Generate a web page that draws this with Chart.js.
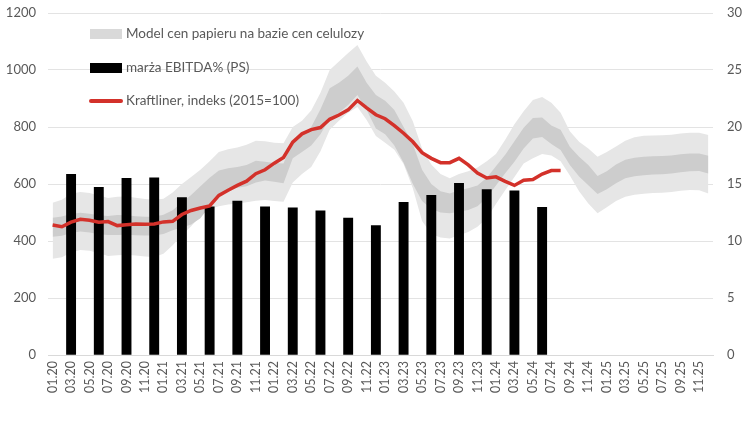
<!DOCTYPE html>
<html>
<head>
<meta charset="utf-8">
<script src="https://cdn.jsdelivr.net/npm/chart.js@4.4.1/dist/chart.umd.min.js"></script>
<style>
html,body{margin:0;padding:0;background:#fff;}
#wrap{position:relative;width:755px;height:430px;}
</style>
</head>
<body>
<div id="wrap"><canvas id="c" width="755" height="430"></canvas></div>
<script>
// Monthly categories 01.20 - 12.25
const months = [
 "01.20","02.20","03.20","04.20","05.20","06.20","07.20","08.20","09.20","10.20","11.20","12.20",
 "01.21","02.21","03.21","04.21","05.21","06.21","07.21","08.21","09.21","10.21","11.21","12.21",
 "01.22","02.22","03.22","04.22","05.22","06.22","07.22","08.22","09.22","10.22","11.22","12.22",
 "01.23","02.23","03.23","04.23","05.23","06.23","07.23","08.23","09.23","10.23","11.23","12.23",
 "01.24","02.24","03.24","04.24","05.24","06.24","07.24","08.24","09.24","10.24","11.24","12.24",
 "01.25","02.25","03.25","04.25","05.25","06.25","07.25","08.25","09.25","10.25","11.25","12.25"
];

// Kraftliner index (2015=100), monthly 01.20 - 08.24
const kraftliner = [
 456,450,466,476,473,466,468,454,457,460,459,460,
 467,469,493,507,516,523,560,578,595,610,636,650,
 673,693,747,776,791,798,827,842,860,893,867,843,
 829,805,778,748,710,690,675,675,690,667,638,621,
 625,609,595,613,616,635,647,647
];

// Model band (paper price model based on pulp prices): outer and inner bounds
const modelOuterHigh = [
 534,545,566,572,568,560,551,555,556,552,547,545,
 548,570,600,625,650,680,712,722,728,738,752,750,
 745,743,800,822,858,920,1000,1030,1060,1088,1030,980,
 955,925,885,820,725,668,635,620,635,645,658,680,
 705,755,810,855,895,905,885,850,785,748,725,696,
 712,732,752,764,769,770,771,773,777,780,780,772
];
const modelInnerHigh = [
 482,486,495,499,496,490,488,491,490,487,485,485,
 492,508,535,561,592,622,647,655,660,667,682,678,
 674,672,752,770,800,862,936,955,980,1012,955,912,
 892,860,800,740,650,600,575,567,578,585,595,622,
 662,703,750,797,832,833,805,790,731,696,667,628,
 645,668,685,692,696,697,698,700,704,707,707,699
];
const modelInnerLow = [
 415,418,428,433,430,424,421,421,422,420,419,419,
 425,438,447,458,480,522,565,580,587,592,605,612,
 608,603,690,712,735,775,830,850,877,912,860,795,
 775,735,675,600,540,512,500,497,503,509,522,552,
 595,638,678,725,760,765,740,719,667,626,596,565,
 582,603,620,627,631,633,634,637,641,645,646,637
];
const modelOuterLow = [
 338,343,360,368,366,358,347,350,352,349,346,344,
 355,385,420,452,488,512,522,528,532,536,541,544,
 540,538,605,635,660,715,790,822,850,870,825,768,
 745,720,670,585,470,425,412,409,420,432,450,480,
 530,578,625,672,690,705,700,680,630,575,532,497,
 518,540,555,562,566,568,569,572,576,579,578,567
];

// EBITDA margin % (right axis), quarterly
const ebitdaQuarters = ["03.20","06.20","09.20","12.20","03.21","06.21","09.21","12.21","03.22","06.22","09.22","12.22","03.23","06.23","09.23","12.23","03.24","06.24"];
const ebitdaMargin = [15.85,14.7,15.5,15.55,13.8,13.0,13.5,13.0,12.9,12.65,12.0,11.35,13.4,14.0,15.05,14.5,14.4,12.95];

const leftTicks = [0,200,400,600,800,1000,1200];
const rightTicks = [0,5,10,15,20,25,30];

const legendLabels = [
  "Model cen papieru na bazie cen celulozy",
  "marża EBITDA% (PS)",
  "Kraftliner, indeks (2015=100)"
];

// build full-length arrays for the library
const ebitdaSeries = months.map(m => {
  const k = ebitdaQuarters.indexOf(m);
  return k >= 0 ? ebitdaMargin[k] : null;
});

const LIGHT = '#e6e6e6';
const DARK = '#cdcdcd';
const RED = '#d3312a';
const TXT = '#595959';
const FONT = 'Lato';

const legendPlugin = {
  id: 'customLegend',
  afterDraw(chart) {
    const ctx = chart.ctx;
    ctx.save();
    ctx.font = '13.5px ' + FONT;
    ctx.textBaseline = 'middle';
    ctx.textAlign = 'left';
    const x0 = 90, x1 = 122, tx = 126;
    const ys = [34, 68, 101];
    ctx.fillStyle = '#d9d9d9';
    ctx.fillRect(x0, ys[0] - 5, x1 - x0, 10);
    ctx.fillStyle = '#000';
    ctx.fillRect(x0, ys[1] - 5, x1 - x0, 10);
    ctx.strokeStyle = RED;
    ctx.lineWidth = 4;
    ctx.lineCap = 'round';
    ctx.beginPath();
    ctx.moveTo(x0 + 1, ys[2]);
    ctx.lineTo(x1 - 1, ys[2]);
    ctx.stroke();
    ctx.fillStyle = TXT;
    legendLabels.forEach((t, i) => ctx.fillText(t, tx, ys[i]));
    ctx.restore();
  }
};

new Chart(document.getElementById('c'), {
  type: 'bar',
  data: {
    labels: months,
    datasets: [
      {
        type: 'line', label: legendLabels[2], data: kraftliner,
        borderColor: RED, borderWidth: 3.5, pointRadius: 0, tension: 0,
        yAxisID: 'y', order: 0, fill: false
      },
      {
        type: 'bar', label: legendLabels[1], data: ebitdaSeries,
        backgroundColor: '#000', borderWidth: 0,
        barPercentage: 1, categoryPercentage: 1,
        yAxisID: 'y2', order: 1
      },
      {
        type: 'line', label: 'inner high', data: modelInnerHigh,
        borderWidth: 0, borderColor: 'rgba(0,0,0,0)', pointRadius: 0, tension: 0,
        backgroundColor: DARK, fill: '+1', yAxisID: 'y', order: 2
      },
      {
        type: 'line', label: 'inner low', data: modelInnerLow,
        borderWidth: 0, borderColor: 'rgba(0,0,0,0)', pointRadius: 0, tension: 0,
        fill: false, yAxisID: 'y', order: 2
      },
      {
        type: 'line', label: legendLabels[0], data: modelOuterHigh,
        borderWidth: 0, borderColor: 'rgba(0,0,0,0)', pointRadius: 0, tension: 0,
        backgroundColor: LIGHT, fill: '+1', yAxisID: 'y', order: 3
      },
      {
        type: 'line', label: 'outer low', data: modelOuterLow,
        borderWidth: 0, borderColor: 'rgba(0,0,0,0)', pointRadius: 0, tension: 0,
        fill: false, yAxisID: 'y', order: 3
      }
    ]
  },
  options: {
    responsive: false,
    animation: false,
    layout: { padding: { top: 13, left: 0, right: 0, bottom: 0 } },
    plugins: {
      legend: { display: false },
      tooltip: { enabled: false },
      filler: { propagate: false }
    },
    scales: {
      x: {
        grid: { display: false, drawTicks: false },
        border: { display: true, color: '#d9d9d9', width: 1 },
        ticks: {
          autoSkip: false, maxRotation: 90, minRotation: 90,
          color: TXT, font: { family: FONT, size: 12.5 }, padding: 6,
          callback: function(v, i) { return i % 2 === 0 ? months[i] : ''; }
        },
        afterFit(s) { s.height = 75; }
      },
      y: {
        position: 'left', min: 0, max: 1200,
        afterBuildTicks(s) { s.ticks = leftTicks.map(v => ({ value: v })); },
        grid: { color: '#e3e3e3', lineWidth: 1, drawTicks: true, tickLength: 12, tickColor: 'rgba(0,0,0,0)' },
        border: { display: false },
        ticks: { color: TXT, font: { family: FONT, size: 13 }, padding: 0,
          callback: v => String(v) },
        afterFit(s) { s.width = 48; }
      },
      y2: {
        position: 'right', min: 0, max: 30,
        afterBuildTicks(s) { s.ticks = rightTicks.map(v => ({ value: v })); },
        grid: { display: true, drawOnChartArea: false, drawTicks: true, tickLength: 14, tickColor: 'rgba(0,0,0,0)', color: 'rgba(0,0,0,0)' },
        border: { display: false },
        ticks: { color: TXT, font: { family: FONT, size: 13 }, padding: 0,
          callback: v => String(v) },
        afterFit(s) { s.width = 42; }
      }
    }
  },
  plugins: [legendPlugin]
});
</script>
</body>
</html>
